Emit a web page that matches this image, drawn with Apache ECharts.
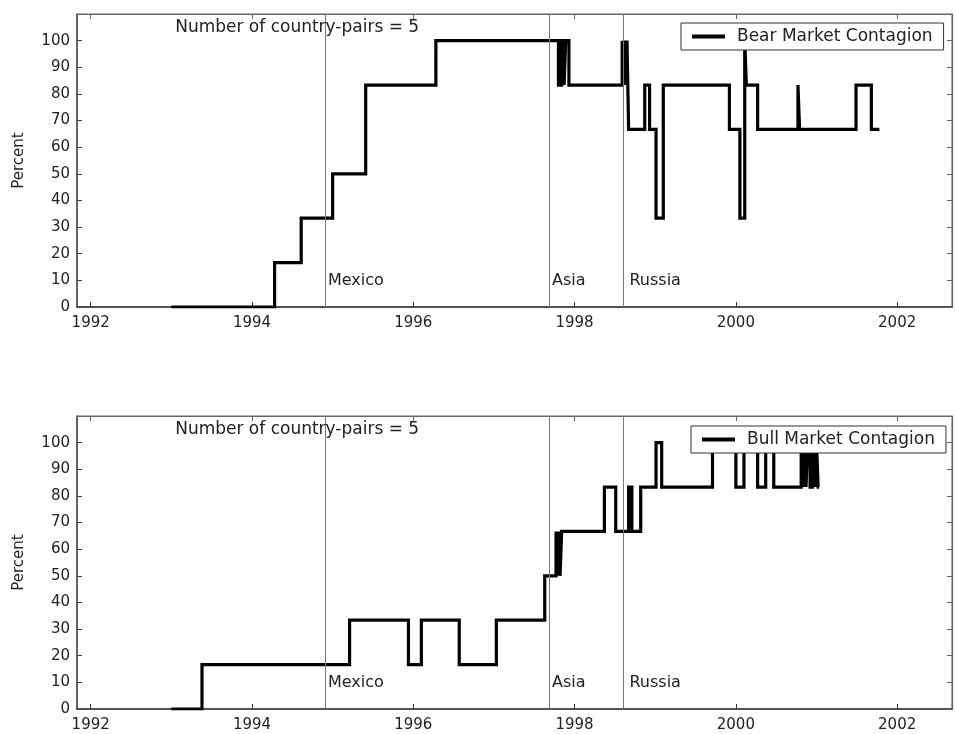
<!DOCTYPE html>
<html>
<head>
<meta charset="utf-8">
<script src="https://cdn.jsdelivr.net/npm/echarts@6/dist/echarts.min.js"></script>
<style>
html,body{margin:0;padding:0;background:#fff;}
#chart{width:955px;height:734px;}
</style>
</head>
<body>
<div id="chart"></div>
<script>
// ---- data ----
const xTickYears = [1992, 1994, 1996, 1998, 2000, 2002];
const yTickValues = [0, 10, 20, 30, 40, 50, 60, 70, 80, 90, 100];

const bearDates = [1993.00, 1994.28, 1994.61, 1995.00, 1995.41, 1996.28,
  1997.80, 1997.84, 1997.87, 1997.89, 1997.93,
  1998.59, 1998.61, 1998.62, 1998.64, 1998.65, 1998.67,
  1998.87, 1998.93, 1999.01, 1999.10, 1999.92, 2000.05, 2000.11, 2000.13,
  2000.27, 2000.77, 2000.79, 2001.49, 2001.68, 2001.78];
const bearValues = [0, 16.67, 33.33, 50, 83.33, 100,
  83.33, 100, 83.33, 100, 83.33,
  100, 83.33, 100, 83.33, 100, 66.67,
  83.33, 66.67, 33.33, 83.33, 66.67, 33.33, 100, 83.33,
  66.67, 83.33, 66.67, 83.33, 66.67, 66.67];

const bullDates = [1993.00, 1993.38, 1995.21, 1995.94, 1996.10, 1996.57, 1997.03,
  1997.63, 1997.77, 1997.78, 1997.79, 1997.80, 1997.81, 1997.82, 1997.84,
  1998.37, 1998.51, 1998.67, 1998.71, 1998.82, 1999.01, 1999.08, 1999.71,
  2000.00, 2000.10, 2000.27, 2000.37, 2000.47,
  2000.81, 2000.83, 2000.85, 2000.87, 2000.89, 2000.92, 2000.95, 2000.98, 2001.00, 2001.02, 2001.03];
const bullValues = [0, 16.67, 33.33, 16.67, 33.33, 16.67, 33.33,
  50, 66.67, 50, 66.67, 50, 66.67, 50, 66.67,
  83.33, 66.67, 83.33, 66.67, 83.33, 100, 83.33, 100,
  83.33, 100, 83.33, 100, 83.33,
  100, 83.33, 100, 83.33, 100, 83.33, 100, 83.33, 100, 83.33, 83.33];

const eventNames = ['Mexico', 'Asia', 'Russia'];
const eventDates = [1994.91, 1997.69, 1998.60];
const eventLabelY = 10;
const pairsText = 'Number of country-pairs = 5';
const pairsPos = [1994.56, 105];
const seriesNames = ['Bear Market Contagion', 'Bull Market Contagion'];

// ---- chart ----
const FONT = 'DejaVu Sans';
const TXT = '#222';
const X_MIN = 1991.83, X_MAX = 2002.68;

function xAxes(gi) {
  return [
    {
      gridIndex: gi, type: 'value', min: X_MIN, max: X_MAX, position: 'bottom',
      axisLine: {show: true, onZero: false, lineStyle: {color: '#333', width: 1.5}},
      axisTick: {show: true, inside: true, length: 5, customValues: xTickYears, lineStyle: {color: '#333'}},
      axisLabel: {show: true, customValues: xTickYears, margin: 9, fontSize: 15, fontFamily: FONT, color: TXT,
        formatter: v => String(Math.round(v))},
      splitLine: {show: false}
    },
    {
      gridIndex: gi, type: 'value', min: X_MIN, max: X_MAX, position: 'top',
      axisLine: {show: true, onZero: false, lineStyle: {color: '#666', width: 1.2}},
      axisTick: {show: true, inside: true, length: 5, customValues: xTickYears, lineStyle: {color: '#666'}},
      axisLabel: {show: false},
      splitLine: {show: false}
    }
  ];
}
function yAxes(gi) {
  return [
    {
      gridIndex: gi, type: 'value', min: 0, max: 110, position: 'left',
      name: 'Percent', nameLocation: 'middle', nameGap: 50,
      nameTextStyle: {fontSize: 15, fontFamily: FONT, color: TXT},
      axisLine: {show: true, onZero: false, lineStyle: {color: '#444', width: 1.5}},
      axisTick: {show: true, inside: true, length: 5, customValues: yTickValues, lineStyle: {color: '#444'}},
      axisLabel: {show: true, customValues: yTickValues, margin: 7, fontSize: 15, fontFamily: FONT, color: TXT},
      splitLine: {show: false}
    },
    {
      gridIndex: gi, type: 'value', min: 0, max: 110, position: 'right',
      axisLine: {show: true, onZero: false, lineStyle: {color: '#666', width: 1.2}},
      axisTick: {show: true, inside: true, length: 5, customValues: yTickValues, lineStyle: {color: '#666'}},
      axisLabel: {show: false},
      splitLine: {show: false}
    }
  ];
}

function makeSeries(gi, name, dates, values) {
  const markPointData = eventNames.map((n, i) => ({
    name: n, coord: [eventDates[i], eventLabelY],
    label: {distance: n === 'Russia' ? 6 : 2}
  }));
  markPointData.push({
    name: pairsText, coord: pairsPos,
    label: {position: 'inside', distance: 0, fontSize: 17}
  });
  return {
    type: 'line', name: name,
    xAxisIndex: gi * 2, yAxisIndex: gi * 2,
    step: 'end', symbol: 'none', showSymbol: false,
    data: dates.map((d, i) => [d, values[i]]),
    lineStyle: {color: '#000', width: 3.2, join: 'miter'},
    itemStyle: {color: '#000'},
    z: 3,
    markLine: {
      silent: true, symbol: 'none',
      lineStyle: {color: '#777', width: 1, type: 'solid'},
      label: {show: false},
      data: eventDates.map(d => ({xAxis: d}))
    },
    markPoint: {
      silent: true, symbol: 'rect', symbolSize: 1,
      itemStyle: {color: 'rgba(0,0,0,0)'},
      label: {show: true, position: 'right', formatter: '{b}', fontSize: 16, fontFamily: FONT, color: TXT},
      data: markPointData
    }
  };
}

const legendCommon = {
  orient: 'horizontal', backgroundColor: '#fff', borderColor: '#333', borderWidth: 1,
  borderRadius: 0, padding: [5, 11, 5, 11], itemWidth: 33, itemHeight: 4, icon: 'rect',
  textStyle: {fontSize: 17, fontFamily: FONT, color: TXT, padding: [0, 0, 0, 7]},
  selectedMode: false, z: 10
};

const option = {
  animation: false,
  backgroundColor: '#fff',
  grid: [
    {left: 77, top: 14, width: 875, height: 293, show: true, borderColor: '#666', borderWidth: 1, backgroundColor: '#fff'},
    {left: 77, top: 416, width: 875, height: 293, show: true, borderColor: '#666', borderWidth: 1, backgroundColor: '#fff'}
  ],
  legend: [
    Object.assign({}, legendCommon, {data: [seriesNames[0]], left: 681, top: 23}),
    Object.assign({}, legendCommon, {data: [seriesNames[1]], left: 691, top: 426})
  ],
  xAxis: xAxes(0).concat(xAxes(1)),
  yAxis: yAxes(0).concat(yAxes(1)),
  series: [
    makeSeries(0, seriesNames[0], bearDates, bearValues),
    makeSeries(1, seriesNames[1], bullDates, bullValues)
  ]
};

const chart = echarts.init(document.getElementById('chart'), null, {renderer: 'canvas'});
chart.setOption(option);
</script>
</body>
</html>
